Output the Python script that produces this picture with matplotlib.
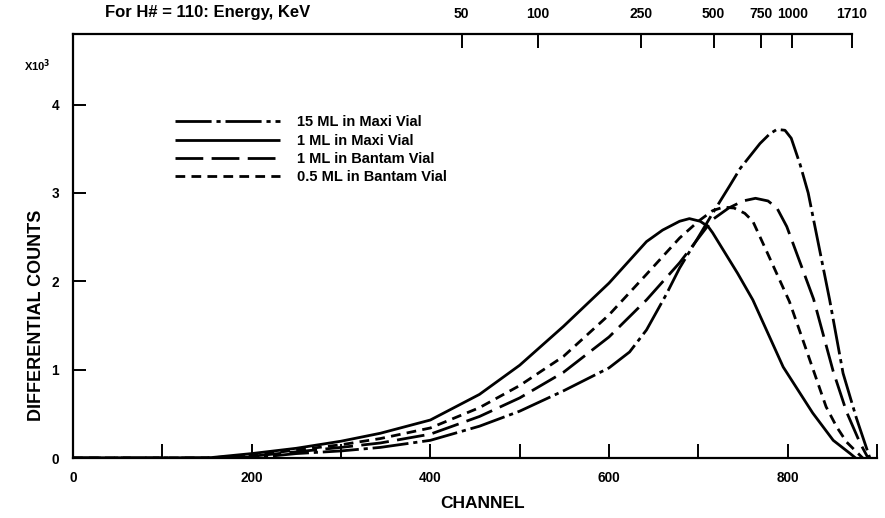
import matplotlib
matplotlib.use("Agg")
import matplotlib.pyplot as plt

plt.rcParams['font.family'] = ['Liberation Sans', 'DejaVu Sans']
plt.rcParams['font.weight'] = 'bold'
plt.rcParams['lines.scale_dashes'] = False

# ---- data ----
ch_maxi15 = [0, 170, 220, 250, 300, 344, 400, 455, 500, 549, 600, 623, 642, 664, 679, 700, 716,
             735, 747, 769, 780, 788, 797, 804, 814, 823, 847, 862, 877, 888, 892]
y_maxi15 = [0, 0, 0.02, 0.05, 0.08, 0.12, 0.20, 0.36, 0.53, 0.76, 1.02, 1.20, 1.45, 1.85, 2.15, 2.50, 2.77,
            3.08, 3.28, 3.56, 3.67, 3.72, 3.71, 3.62, 3.32, 3.00, 1.79, 0.96, 0.45, 0.12, 0]

ch_maxi1 = [0, 100, 150, 200, 250, 300, 344, 400, 455, 500, 549, 600, 642, 660, 679, 690, 702,
            711, 716, 744, 761, 795, 828, 851, 870, 876]
y_maxi1 = [0, 0, 0, 0.05, 0.11, 0.19, 0.28, 0.43, 0.72, 1.05, 1.49, 1.98, 2.45, 2.58, 2.68, 2.71, 2.68,
           2.62, 2.55, 2.09, 1.79, 1.03, 0.51, 0.20, 0.05, 0]

ch_bantam1 = [0, 150, 200, 250, 300, 344, 400, 455, 500, 549, 600, 642, 679, 716, 734, 750, 764,
              778, 788, 799, 829, 851, 866, 881, 890]
y_bantam1 = [0, 0, 0.02, 0.07, 0.12, 0.17, 0.27, 0.47, 0.68, 0.97, 1.37, 1.79, 2.21, 2.70, 2.83, 2.91, 2.94,
             2.91, 2.83, 2.62, 1.80, 0.98, 0.52, 0.17, 0]

ch_bantam05 = [0, 150, 200, 250, 300, 344, 400, 455, 500, 549, 600, 642, 679, 700, 716, 728, 740, 752,
               761, 776, 802, 821, 843, 855, 866, 884]
y_bantam05 = [0, 0, 0.03, 0.09, 0.15, 0.22, 0.34, 0.57, 0.82, 1.15, 1.62, 2.08, 2.49, 2.68, 2.80, 2.84, 2.83, 2.77,
              2.68, 2.35, 1.77, 1.22, 0.58, 0.35, 0.18, 0]

labels = ["15 ML in Maxi Vial", "1 ML in Maxi Vial", "1 ML in Bantam Vial", "0.5 ML in Bantam Vial"]

x_ticks = [0, 100, 200, 300, 400, 500, 600, 700, 800, 900]
x_ticklabels = ["0", "", "200", "", "400", "", "600", "", "800", ""]
y_ticks = [0, 1, 2, 3, 4]
y_ticklabels = ["0", "1", "2", "3", "4"]

energy_labels = ["50", "100", "250", "500", "750", "1000", "1710"]
energy_channels = [435, 520, 636, 717, 770, 805, 872]

# ---- figure ----
fig = plt.figure(figsize=(8.85, 5.18), dpi=100)
ax = fig.add_axes([73/885, 1-458/518, 804/885, (458-34)/518])
ax.set_xlim(0, 900)
ax.set_ylim(0, 4.8)

lw = 2.0
l1, = ax.plot(ch_maxi15, y_maxi15, color='black', lw=lw, dashes=(26, 3.5, 3, 3.5), label=labels[0])
l2, = ax.plot(ch_maxi1, y_maxi1, color='black', lw=lw, label=labels[1])
l3, = ax.plot(ch_bantam1, y_bantam1, color='black', lw=lw, dashes=(20, 6), label=labels[2])
l4, = ax.plot(ch_bantam05, y_bantam05, color='black', lw=lw, dashes=(7, 4.5), label=labels[3])
for l in (l1, l2, l3, l4):
    l.set_solid_capstyle('butt')
    l.set_dash_capstyle('butt')
    l.set_solid_joinstyle('round')
    l.set_dash_joinstyle('round')

ax.spines['right'].set_visible(False)
for s in ('left', 'bottom', 'top'):
    ax.spines[s].set_linewidth(1.6)
ax.spines['top'].set_bounds(0, 872)

ax.set_xticks(x_ticks)
ax.set_xticklabels(x_ticklabels)
ax.set_yticks(y_ticks)
ax.set_yticklabels(y_ticklabels)
ax.tick_params(axis='x', direction='in', length=10, width=1.4, pad=9, labelsize=9.8)
ax.tick_params(axis='y', direction='in', length=9.5, width=1.4, pad=10, labelsize=9.8)

ax2 = ax.twiny()
ax2.set_xlim(ax.get_xlim())
for s in ('left', 'right', 'bottom', 'top'):
    ax2.spines[s].set_visible(False)
ax2.set_xticks(energy_channels)
ax2.set_xticklabels(energy_labels)
ax2.tick_params(axis='x', direction='in', length=10, width=1.4, pad=9, labelsize=10)

fig.text(483/885, 1-503/518, "CHANNEL", fontsize=12.5, fontweight='bold', va='center', ha='center')
fig.text(37/885, 1-315/518, "DIFFERENTIAL COUNTS", fontsize=13, fontweight='bold',
         va='center', ha='center', rotation=90)

fig.text(105/885, 1-13/518, "For H# = 110: Energy, KeV", fontsize=12, fontweight='bold', va='center', ha='left')
fig.text(24/885, 1-66/518, "X10$^{3}$", fontsize=8, fontweight='bold', va='center', ha='left')

ax.legend(handles=[l1, l2, l3, l4], loc='upper left', bbox_to_anchor=(0.1196, 0.822),
          frameon=False, fontsize=10.5, handlelength=7.2, handletextpad=1.2, labelspacing=0.3,
          borderaxespad=0)

fig.savefig("out.png", dpi=100)
